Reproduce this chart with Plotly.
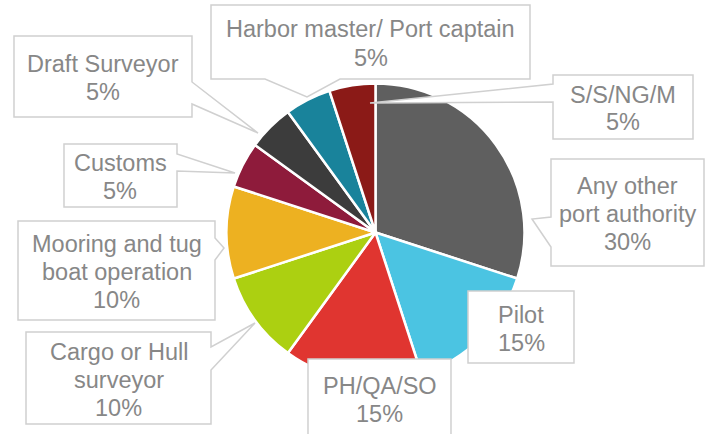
import plotly.graph_objects as go

W, H = 706, 434

categories = ["Any other port authority", "Pilot", "PH/QA/SO", "Cargo or Hull surveyor",
              "Mooring and tug boat operation", "Customs", "Draft Surveyor",
              "Harbor master/ Port captain", "S/S/NG/M"]
values = [30, 15, 15, 10, 10, 5, 5, 5, 5]
colors = ["#5F5F5F", "#4BC4E2", "#E03530", "#ACD011", "#EDB121", "#8E1B3B",
          "#3C3C3C", "#19839B", "#8B1A17"]
# label text lines (name split for the callout boxes)
label_lines = [["Any other", "port authority"], ["Pilot"], ["PH/QA/SO"],
               ["Cargo or Hull", "surveyor"], ["Mooring and tug", "boat operation"],
               ["Customs"], ["Draft Surveyor"], ["Harbor master/ Port captain"], ["S/S/NG/M"]]

# callout layout (pixels): box (l, t, r, b), pointer (side, base_a, base_b, tip_x, tip_y)
callouts = [
    ((551, 159, 704, 266), ("left", 217, 247, 532, 219)),
    ((468, 291, 574, 363), None),
    ((308, 359, 451, 440), None),
    ((26, 332, 211, 424), ("right", 347, 370, 255, 323)),
    ((18, 221, 215, 320), ("right", 238, 260, 224, 248)),
    ((64, 144, 177, 207), ("right", 154, 171, 235, 173)),
    ((14, 36, 192, 117), ("right", 82, 104, 258, 133)),
    ((211, 5, 530, 79), ("bottom", 265, 340, 307, 97)),
    ((553, 75, 693, 139), ("left", 84, 102, 370, 103)),
]

cx, cy, r = 375.5, 232.5, 149

fig = go.Figure(go.Pie(
    labels=categories, values=values, sort=False, direction="clockwise", rotation=0,
    marker=dict(colors=colors, line=dict(color="white", width=2.5)),
    textinfo="none", hoverinfo="label+percent", showlegend=False,
    domain=dict(x=[(cx - r) / W, (cx + r) / W], y=[1 - (cy + r) / H, 1 - (cy - r) / H]),
))


def px(x, y):
    return f"{x / W:.5f},{1 - y / H:.5f}"


shapes = []
annotations = []
total = sum(values)
LS = 28
for lines, v, (box, ptr) in zip(label_lines, values, callouts):
    l, t, rr, b = box
    pts = []
    if ptr is None:
        pts = [(l, t), (rr, t), (rr, b), (l, b)]
    else:
        side, a1, a2, tx, ty = ptr
        if side == "left":
            pts = [(l, t), (rr, t), (rr, b), (l, b), (l, a2), (tx, ty), (l, a1)]
        elif side == "right":
            pts = [(l, t), (rr, t), (rr, a1), (tx, ty), (rr, a2), (rr, b), (l, b)]
        else:  # bottom
            pts = [(l, t), (rr, t), (rr, b), (a2, b), (tx, ty), (a1, b), (l, b)]
    path = "M" + " L".join(px(x, y) for x, y in pts) + " Z"
    shapes.append(dict(type="path", path=path, xref="paper", yref="paper",
                       fillcolor="white", line=dict(color="#D0D0D0", width=1.5), layer="above"))
    all_lines = lines + [f"{round(100 * v / total)}%"]
    n = len(all_lines)
    bx = (l + rr) / 2
    if b > H:
        by = 400
    else:
        by = (t + b) / 2 + 1.5
    for i, txt in enumerate(all_lines):
        yy = by + (i - (n - 1) / 2) * LS
        annotations.append(dict(text=txt, x=bx / W, y=1 - yy / H, xref="paper", yref="paper",
                                showarrow=False, xanchor="center", yanchor="middle",
                                font=dict(family="Liberation Sans, Arial, sans-serif",
                                          size=23.5, color="#878787")))

fig.update_layout(width=W, height=H, margin=dict(l=0, r=0, t=0, b=0),
                  paper_bgcolor="white", plot_bgcolor="white",
                  shapes=shapes, annotations=annotations)

fig.write_html("out.html", config={"displayModeBar": False},
               post_script="document.body.style.margin='0px';")
